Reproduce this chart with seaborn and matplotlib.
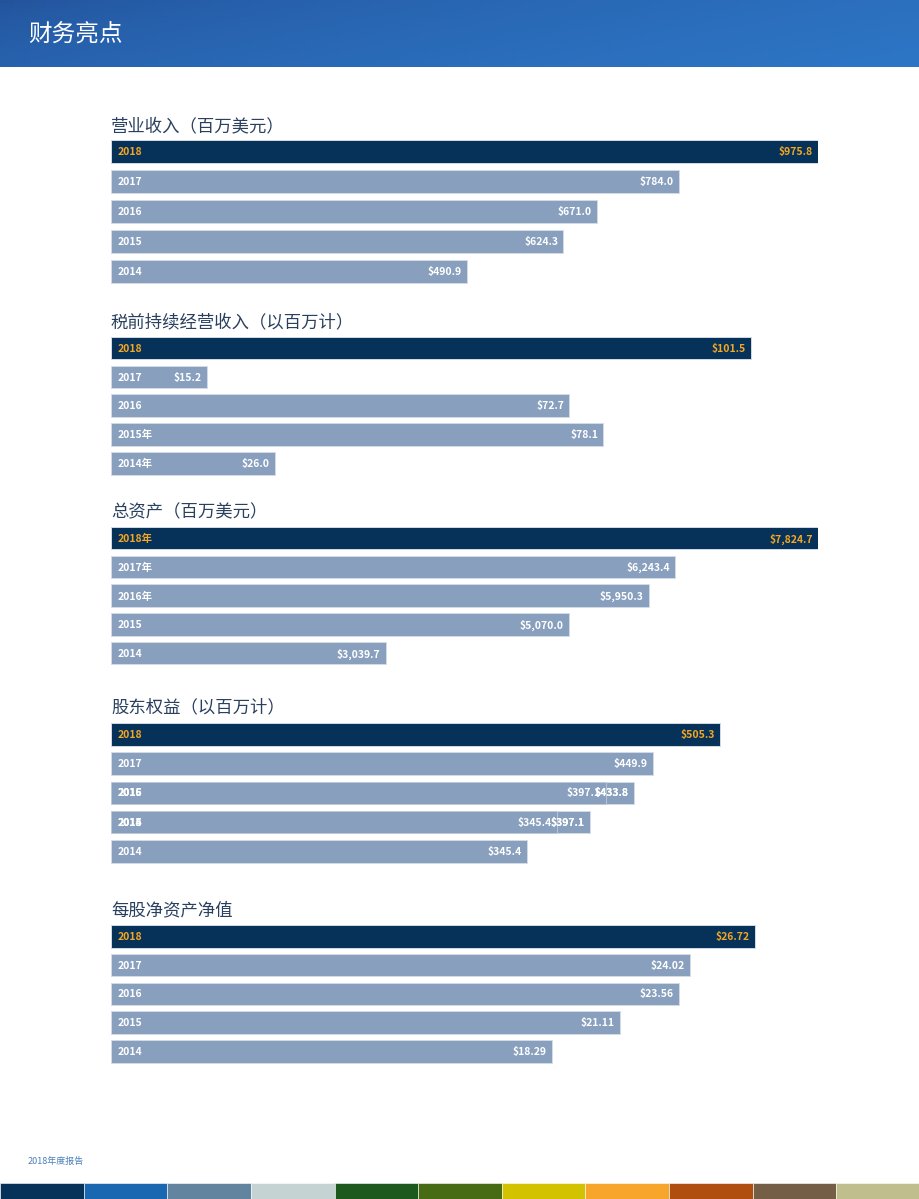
import numpy as np
import pandas as pd
import matplotlib.pyplot as plt
import seaborn as sns

# ---- data ----
years = ["2018", "2017", "2016", "2015", "2014"]

revenue = [975.8, 784.0, 671.0, 624.3, 490.9]
revenue_years = ["2018", "2017", "2016", "2015", "2014"]

pretax = [101.5, 15.2, 72.7, 78.1, 26.0]
pretax_years = ["2018", "2017", "2016", "2015年", "2014年"]

assets = [7824.7, 6243.4, 5950.3, 5070.0, 3039.7]
assets_years = ["2018年", "2017年", "2016年", "2015", "2014"]

equity = [505.3, 449.9, 433.8, 397.1, 345.4]
equity_years = ["2018", "2017", "2016", "2015", "2014"]
# half-drawn transition bars visible in rows 2016 / 2015
equity_ghost_rows = [2, 3]
equity_ghost = [410.8, 370.0]
equity_ghost_labels = ["$397.1", "$345.4"]
equity_ghost_years = ["2015", "2014"]

bvps = [26.72, 24.02, 23.56, 21.11, 18.29]
bvps_years = ["2018", "2017", "2016", "2015", "2014"]

titles = ["营业收入（百万美元）", "税前持续经营收入（以百万计）", "总资产（百万美元）",
          "股东权益（以百万计）", "每股净资产净值"]

strip_colors = ["#06325A", "#1A67B1", "#62849E", "#C5D3D3", "#1B5A1C", "#466B12",
                "#D2C200", "#F7A62B", "#B04E10", "#745E45", "#C0BE8C"]

# ---- style ----
W, H = 920, 1199
DARK = "#06325A"
LIGHT = "#889FBE"
ORANGE = "#F5A623"
CJK = ["Noto Sans CJK SC", "DejaVu Sans"]

sns.set_theme(style="white")
plt.rcParams["font.family"] = CJK

fig = plt.figure(figsize=(W / 100, H / 100), dpi=100)
fig.patch.set_facecolor("white")


def px_axes(x0, y0, x1, y1):
    return fig.add_axes([x0 / W, 1 - y1 / H, (x1 - x0) / W, (y1 - y0) / H])


# header band with gradient
hax = px_axes(0, 0, W, 67)
gx = np.linspace(0, 1, 200)
gy = np.linspace(0, 1, 20)
GX, GY = np.meshgrid(gx, gy)
t = np.clip(0.75 * GX + 0.25 * GY, 0, 1) ** 0.6
c0 = np.array([0x23, 0x52, 0x9A]) / 255
c1 = np.array([0x2D, 0x76, 0xC6]) / 255
img = c0[None, None, :] * (1 - t[..., None]) + c1[None, None, :] * t[..., None]
hax.imshow(img, aspect="auto", extent=[0, 1, 0, 1])
hax.set_axis_off()
fig.text(28 / W, 1 - 34 / H, "财务亮点", color="white", fontsize=17,
         fontweight="light", va="center", ha="left")

# panels: (values, year labels, fmt, bar-end px of max, top of first bar, row pitch, title y)
panels = [
    (revenue, revenue_years, "${:,.1f}", 818, 140, 30.0, 126),
    (pretax, pretax_years, "${:,.1f}", 751, 337, 28.75, 322),
    (assets, assets_years, "${:,.1f}", 818, 527, 28.75, 512),
    (equity, equity_years, "${:,.1f}", 720, 723, 29.25, 707),
    (bvps, bvps_years, "${:,.2f}", 755, 925, 28.75, 910),
]

BAR_H = 22.5
X0, X1 = 111, 818

for k, (vals, ylabs, fmt, end_px, top_px, pitch, title_y) in enumerate(panels):
    atop = top_px - (pitch - BAR_H) / 2
    ax = px_axes(X0, atop, X1, atop + 5 * pitch)
    df = pd.DataFrame({"year": years, "value": vals})
    pal = {y: (DARK if y == "2018" else LIGHT) for y in years}
    sns.barplot(data=df, x="value", y="year", hue="year", palette=pal, order=years,
                orient="h", width=BAR_H / pitch, legend=False, ax=ax,
                edgecolor="#D3DBE6", linewidth=0.7, saturation=1)
    xmax = max(vals) * (X1 - X0) / (end_px - X0)
    ax.set_xlim(0, xmax)
    ax.set_ylim(4.5, -0.5)
    ax.set_axis_off()

    for i, (v, yl) in enumerate(zip(vals, ylabs)):
        col = ORANGE if i == 0 else "white"
        ax.annotate(yl, xy=(0, i), xytext=(4.5, -0.5), textcoords="offset points",
                    ha="left", va="center", fontsize=7.5, fontweight="bold", color=col)
        ax.annotate(fmt.format(v), xy=(v, i), xytext=(-3.8, -0.5), textcoords="offset points",
                    ha="right", va="center", fontsize=7.5, fontweight="bold", color=col)

    if k == 3:
        ax.barh(equity_ghost_rows, equity_ghost, height=BAR_H / pitch, color=LIGHT,
                edgecolor="#C2CCDB", linewidth=0.6)
        for r, v, lab, yl in zip(equity_ghost_rows, equity_ghost, equity_ghost_labels,
                                 equity_ghost_years):
            ax.annotate(lab, xy=(v, r), xytext=(-3.8, -0.5), textcoords="offset points",
                        ha="right", va="center", fontsize=7.5, fontweight="bold", color="white")
            ax.annotate(yl, xy=(0, r), xytext=(4.5, -0.5), textcoords="offset points",
                        ha="left", va="center", fontsize=7.5, fontweight="bold", color="white")
            ax.annotate(equity_years[r], xy=(0, r), xytext=(4.5, -0.5), textcoords="offset points",
                        ha="left", va="center", fontsize=7.5, fontweight="bold", color="white")
        # redraw main labels of rows sitting under the transition bars
        for r in equity_ghost_rows:
            ax.annotate(fmt.format(equity[r]), xy=(equity[r], r), xytext=(-3.8, -0.5),
                        textcoords="offset points", ha="right", va="center",
                        fontsize=7.5, fontweight="bold", color="white")

    fig.text(X0 / W, 1 - title_y / H, titles[k], color="#29405E", fontsize=12.5,
             va="center", ha="left")

# footer
fig.text(28 / W, 1 - 1161 / H, "2018年度报告", color="#4A7FB8", fontsize=6.5,
         va="center", ha="left")
sax = px_axes(0, 1183, W, H)
sax.bar(range(len(strip_colors)), [1] * len(strip_colors), width=1.0, color=strip_colors,
        edgecolor="white", linewidth=0.4)
sax.set_xlim(-0.5, len(strip_colors) - 0.5)
sax.set_ylim(0, 1)
sax.set_axis_off()

fig.savefig("out.png", dpi=100, facecolor="white")
